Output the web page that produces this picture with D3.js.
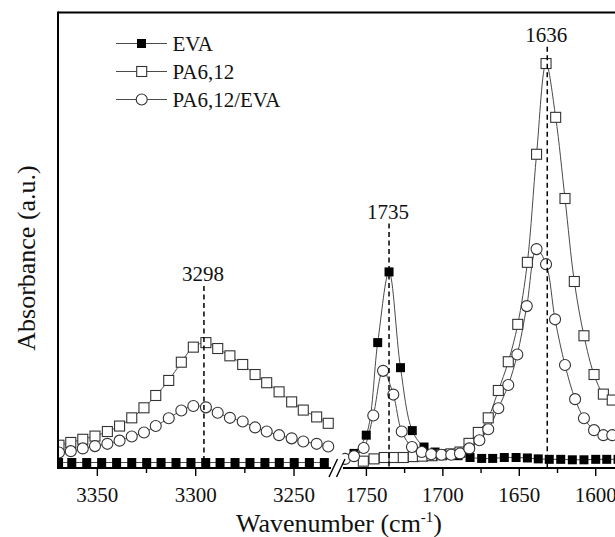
<!DOCTYPE html>
<html>
<head>
<meta charset="utf-8">
<script src="https://cdn.jsdelivr.net/npm/d3@7"></script>
<style>
  html, body { margin: 0; padding: 0; background: #fff; }
  svg { display: block; }
</style>
</head>
<body>
<svg id="chart" width="615" height="537"></svg>
<script>
// ---------- data ----------
const seriesNames = ["EVA", "PA6,12", "PA6,12/EVA"];

// left panel (N-H stretch region)
const gridLeftWn = [3369.5,3363.5,3357.4,3351.2,3344.9,3338.7,3332.5,3326.3,3320.3,3313.7,3307.3,3301.2,3294.8,3288.8,3282.6,3276.1,3269.8,3263.9,3257.6,3251.2,3245.3,3238.5,3232.6];
const paLeftAbs = [0.050,0.056,0.063,0.070,0.080,0.092,0.110,0.132,0.159,0.192,0.232,0.265,0.275,0.262,0.246,0.227,0.205,0.187,0.167,0.145,0.127,0.112,0.098];
const blendLeftAbs = [0.034,0.037,0.043,0.048,0.053,0.060,0.069,0.078,0.092,0.109,0.126,0.136,0.133,0.121,0.110,0.102,0.089,0.080,0.072,0.065,0.058,0.053,0.047];
const evaLeftWn = [3369.7,3363.0,3355.4,3347.8,3340.2,3332.5,3324.9,3317.6,3310.0,3302.4,3294.9,3287.6,3280.0,3272.4,3264.8,3257.5,3249.9,3242.2,3234.6];
const evaLeftAbs = [0.012,0.012,0.012,0.012,0.012,0.012,0.012,0.012,0.012,0.012,0.012,0.012,0.012,0.012,0.012,0.012,0.012,0.012,0.012];

// right panel (carbonyl / amide I region)
const evaRightWn = [1758.1,1750.1,1742.6,1735.2,1727.7,1720.0,1712.3,1705.1,1697.6,1690.1,1682.2,1674.6,1667.4,1659.8,1652.1,1644.7,1637.6,1630.4,1622.9,1615.3,1607.7,1600.0,1592.8,1585.4];
const evaRightAbs = [0.032,0.072,0.275,0.430,0.220,0.082,0.046,0.035,0.031,0.027,0.023,0.021,0.021,0.023,0.023,0.022,0.020,0.019,0.019,0.018,0.018,0.019,0.019,0.019];
const paRightWn = [1752.0,1745.0,1738.3,1731.9,1725.9,1719.3,1713.4,1707.1,1700.9,1694.7,1688.8,1682.9,1676.8,1670.3,1663.7,1657.2,1651.0,1644.7,1638.7,1632.5,1626.2,1620.1,1614.0,1607.7,1601.1,1595.0,1589.2,1583.1];
const paRightAbs = [0.015,0.020,0.023,0.023,0.023,0.025,0.026,0.027,0.029,0.031,0.035,0.054,0.078,0.110,0.170,0.233,0.315,0.451,0.688,0.887,0.769,0.591,0.409,0.290,0.205,0.162,0.149,0.143];
const blendRightWn = [1764.0,1758.1,1751.8,1745.5,1739.1,1732.4,1726.9,1720.2,1713.8,1707.6,1700.9,1694.5,1688.8,1682.7,1676.1,1670.3,1663.7,1657.2,1651.3,1645.1,1638.7,1632.5,1626.6,1620.1,1613.5,1607.7,1601.1,1595.0,1589.2,1583.1];
const blendRightAbs = [0.020,0.026,0.044,0.115,0.213,0.161,0.080,0.046,0.035,0.030,0.029,0.029,0.032,0.043,0.061,0.085,0.131,0.182,0.249,0.355,0.480,0.447,0.326,0.226,0.151,0.109,0.083,0.072,0.072,0.071];

// axis ticks
const leftMajorTicks = [3350, 3300, 3250];
const leftMinorTicks = [3325, 3275];
const rightMajorTicks = [1750, 1700, 1650, 1600];
const rightMinorTicks = [1725, 1675, 1625];

// peak annotations
const peakLabels = ["3298", "1735", "1636"];
const peakWn = [3295.8, 1735.2, 1631.7];
const peakPanel = ["left", "right", "right"];
const peakLabelAbs = [0.410, 0.547, 0.935];

// ---------- layout ----------
const FONT = "Liberation Serif";
const svg = d3.select("#chart");
const plotTop = 12.5, plotBottom = 468, plotLeft = 58;
const xL = d3.scaleLinear().domain([3370, 3231]).range([58, 331.4]);
const xR = d3.scaleLinear().domain([1764, 1580]).range([345, 626.3]);
const yS = d3.scaleLinear().domain([0, 1]).range([plotBottom, 12]);

const defs = svg.append("defs");
defs.append("clipPath").attr("id", "clipL").append("rect")
  .attr("x", 58).attr("y", 0).attr("width", 278).attr("height", 470);
defs.append("clipPath").attr("id", "clipR").append("rect")
  .attr("x", 342.5).attr("y", 0).attr("width", 280).attr("height", 470);

const zip = (xs, ys) => xs.map((v, i) => ({ wn: v, a: ys[i] }));
const lineGen = (xs) => d3.line().x(d => xs(d.wn)).y(d => yS(d.a)).curve(d3.curveCatmullRom.alpha(0.5));

const LINE_COL = "#4a4a4a";
const MARK_COL = "#333";

function drawPanel(clipId, xs, evaD, paD, blendD) {
  const g = svg.append("g").attr("clip-path", `url(#${clipId})`);
  [evaD, paD, blendD].forEach(d => {
    g.append("path").datum(d).attr("d", lineGen(xs))
      .attr("fill", "none").attr("stroke", LINE_COL).attr("stroke-width", 1);
  });
  g.selectAll(".eva").data(evaD).join("rect")
    .attr("x", d => xs(d.wn) - 4.5).attr("y", d => yS(d.a) - 4.5)
    .attr("width", 9).attr("height", 9).attr("fill", "#000");
  g.selectAll(".pa").data(paD).join("rect")
    .attr("x", d => xs(d.wn) - 5).attr("y", d => yS(d.a) - 5)
    .attr("width", 10).attr("height", 10)
    .attr("fill", "#fff").attr("stroke", MARK_COL).attr("stroke-width", 1.1);
  g.selectAll(".bl").data(blendD).join("circle")
    .attr("cx", d => xs(d.wn)).attr("cy", d => yS(d.a)).attr("r", 5.5)
    .attr("fill", "#fff").attr("stroke", MARK_COL).attr("stroke-width", 1.1);
}

drawPanel("clipL", xL, zip(evaLeftWn, evaLeftAbs), zip(gridLeftWn, paLeftAbs), zip(gridLeftWn, blendLeftAbs));
drawPanel("clipR", xR, zip(evaRightWn, evaRightAbs), zip(paRightWn, paRightAbs), zip(blendRightWn, blendRightAbs));

// peak dashed lines + labels
peakLabels.forEach((lab, i) => {
  const xs = peakPanel[i] === "left" ? xL : xR;
  const px = xs(peakWn[i]);
  const by = yS(peakLabelAbs[i]);
  svg.append("line").attr("x1", px).attr("x2", px).attr("y1", by + 5).attr("y2", plotBottom)
    .attr("stroke", "#000").attr("stroke-width", 1.5).attr("stroke-dasharray", "5,3.5");
  svg.append("text").attr("x", px - 1).attr("y", by).attr("text-anchor", "middle")
    .attr("font-family", FONT).attr("font-size", 21).attr("fill", "#111").text(lab);
});

// frame
svg.append("line").attr("x1", plotLeft).attr("x2", 615).attr("y1", plotTop).attr("y2", plotTop)
  .attr("stroke", "#000").attr("stroke-width", 2);
svg.append("line").attr("x1", plotLeft).attr("x2", plotLeft).attr("y1", plotTop - 1).attr("y2", plotBottom + 1)
  .attr("stroke", "#000").attr("stroke-width", 2);

// bottom axes
function drawAxis(xs, major, minor, x0, x1) {
  const g = svg.append("g");
  g.append("line").attr("x1", x0).attr("x2", x1).attr("y1", plotBottom).attr("y2", plotBottom)
    .attr("stroke", "#000").attr("stroke-width", 1.8);
  g.selectAll(".mj").data(major).join("line")
    .attr("x1", d => xs(d)).attr("x2", d => xs(d)).attr("y1", plotBottom).attr("y2", plotBottom + 8)
    .attr("stroke", "#000").attr("stroke-width", 1.4);
  g.selectAll(".mn").data(minor).join("line")
    .attr("x1", d => xs(d)).attr("x2", d => xs(d)).attr("y1", plotBottom).attr("y2", plotBottom + 5)
    .attr("stroke", "#000").attr("stroke-width", 1.4);
  g.selectAll(".tl").data(major).join("text")
    .attr("x", d => xs(d)).attr("y", 502).attr("text-anchor", "middle")
    .attr("font-family", FONT).attr("font-size", 21).attr("fill", "#111").text(d => d);
}
drawAxis(xL, leftMajorTicks, leftMinorTicks, plotLeft, 331);
drawAxis(xR, rightMajorTicks, rightMinorTicks, 343, 615);

// break marks
[[329, 337.5], [336.5, 345]].forEach(([a, b]) => {
  svg.append("line").attr("x1", a).attr("y1", 477).attr("x2", b).attr("y2", 459)
    .attr("stroke", "#000").attr("stroke-width", 1.4);
});

// axis titles
const xt = svg.append("text").attr("x", 339).attr("y", 532).attr("text-anchor", "middle")
  .attr("font-family", FONT).attr("font-size", 26).attr("fill", "#111");
xt.append("tspan").text("Wavenumber (cm");
xt.append("tspan").attr("font-size", 15).attr("dy", -10).text("-1");
xt.append("tspan").attr("dy", 10).text(")");

svg.append("text").attr("transform", "translate(35,258) rotate(-90)")
  .attr("text-anchor", "middle").attr("font-family", FONT).attr("font-size", 26)
  .attr("fill", "#111").text("Absorbance (a.u.)");

// legend
const legendY = [43.5, 71.5, 99.5];
seriesNames.forEach((name, i) => {
  const g = svg.append("g");
  g.append("line").attr("x1", 116).attr("x2", 167).attr("y1", legendY[i]).attr("y2", legendY[i])
    .attr("stroke", LINE_COL).attr("stroke-width", 1);
  if (i === 0) {
    g.append("rect").attr("x", 137).attr("y", legendY[i] - 4.5).attr("width", 9).attr("height", 9).attr("fill", "#000");
  } else if (i === 1) {
    g.append("rect").attr("x", 136.7).attr("y", legendY[i] - 5).attr("width", 10).attr("height", 10)
      .attr("fill", "#fff").attr("stroke", MARK_COL).attr("stroke-width", 1.1);
  } else {
    g.append("circle").attr("cx", 141.7).attr("cy", legendY[i]).attr("r", 5.5)
      .attr("fill", "#fff").attr("stroke", MARK_COL).attr("stroke-width", 1.1);
  }
  g.append("text").attr("x", 172.5).attr("y", legendY[i] + 7.5)
    .attr("font-family", FONT).attr("font-size", 21).attr("fill", "#111").text(name);
});
</script>
</body>
</html>
